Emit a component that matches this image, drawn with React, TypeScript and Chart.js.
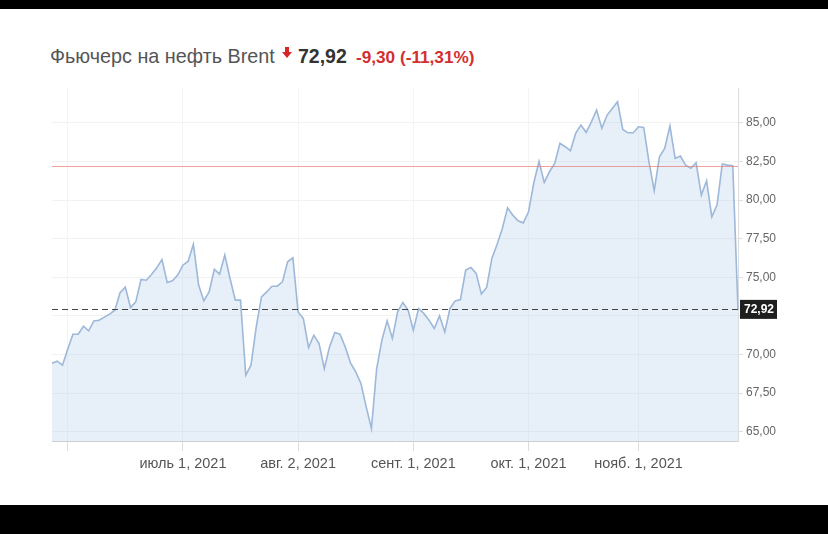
import React, { useEffect, useRef } from "react";
import { Chart, registerables } from "chart.js";
Chart.register(...registerables);

// Trading days (dd.mm, 2021)
const dates: string[] = [
  "27.05", "28.05", "31.05",
  "01.06", "02.06", "03.06", "04.06", "07.06", "08.06", "09.06", "10.06", "11.06", "14.06", "15.06", "16.06", "17.06", "18.06", "21.06", "22.06", "23.06", "24.06", "25.06", "28.06", "29.06", "30.06",
  "01.07", "02.07", "05.07", "06.07", "07.07", "08.07", "09.07", "12.07", "13.07", "14.07", "15.07", "16.07", "19.07", "20.07", "21.07", "22.07", "23.07", "26.07", "27.07", "28.07", "29.07", "30.07",
  "02.08", "03.08", "04.08", "05.08", "06.08", "09.08", "10.08", "11.08", "12.08", "13.08", "16.08", "17.08", "18.08", "19.08", "20.08", "23.08", "24.08", "25.08", "26.08", "27.08", "30.08", "31.08",
  "01.09", "02.09", "03.09", "06.09", "07.09", "08.09", "09.09", "10.09", "13.09", "14.09", "15.09", "16.09", "17.09", "20.09", "21.09", "22.09", "23.09", "24.09", "27.09", "28.09", "29.09", "30.09",
  "01.10", "04.10", "05.10", "06.10", "07.10", "08.10", "11.10", "12.10", "13.10", "14.10", "15.10", "18.10", "19.10", "20.10", "21.10", "22.10", "25.10", "26.10", "27.10", "28.10", "29.10",
  "01.11", "02.11", "03.11", "04.11", "05.11", "08.11", "09.11", "10.11", "11.11", "12.11", "15.11", "16.11", "17.11", "18.11", "19.11", "22.11", "23.11", "24.11", "25.11", "26.11",
];

const prices: number[] = [
  69.44, 69.57, 69.31,
  70.34, 71.31, 71.31, 71.83, 71.53, 72.17, 72.22, 72.42, 72.61, 72.87, 74.0, 74.36, 73.04, 73.41, 74.86, 74.81, 75.18, 75.61, 76.15, 74.66, 74.77, 75.14,
  75.78, 76.04, 77.14, 74.49, 73.47, 74.05, 75.52, 75.2, 76.43, 74.92, 73.52, 73.52, 68.66, 69.31, 71.79, 73.73, 74.05, 74.42, 74.42, 74.7, 76.0, 76.26,
  72.75, 72.33, 70.45, 71.25, 70.71, 69.09, 70.49, 71.42, 71.31, 70.49, 69.46, 68.87, 68.12, 66.61, 65.21, 69.09, 70.93, 72.18, 71.04, 72.76, 73.37, 72.87,
  71.57, 72.98, 72.66, 72.22, 71.68, 72.5, 71.46, 72.98, 73.47, 73.56, 75.46, 75.63, 75.25, 73.91, 74.34, 76.22, 77.14, 78.16, 79.49, 79.02, 78.65, 78.52,
  79.24, 81.1, 82.5, 81.14, 81.83, 82.37, 83.67, 83.45, 83.19, 84.31, 84.85, 84.38, 85.06, 85.82, 84.64, 85.5, 85.93, 86.36, 84.57, 84.35, 84.35,
  84.74, 84.7, 82.47, 80.6, 82.8, 83.34, 84.79, 82.69, 82.84, 82.26, 82.05, 82.41, 80.32, 81.24, 78.91, 79.67, 82.33, 82.26, 82.22, 72.92,
];

const tickDates: string[] = ["01.06", "01.07", "02.08", "01.09", "01.10", "01.11"];
const tickTexts: string[] = ["", "июль 1, 2021", "авг. 2, 2021", "сент. 1, 2021", "окт. 1, 2021", "нояб. 1, 2021"];
const yTicks: number[] = [65, 67.5, 70, 72.5, 75, 77.5, 80, 82.5, 85];

const lastPrice = 72.92;
const prevClose = 82.22;
const titleText = "Фьючерс на нефть Brent";
const priceText = "72,92";
const changeText = "-9,30 (-11,31%)";

const FONT = "'Liberation Sans', Arial, sans-serif";

const fmt = (v: number) => v.toFixed(2).replace(".", ",");

export default function App() {
  const ref = useRef<HTMLCanvasElement | null>(null);

  useEffect(() => {
    if (!ref.current) return;
    const tickIdx = tickDates.map((d) => dates.indexOf(d));

    const linesPlugin = {
      id: "priceLines",
      afterDatasetsDraw(chart: any) {
        const { ctx, chartArea } = chart;
        const y = chart.scales.y;
        ctx.save();
        const yp = Math.round(y.getPixelForValue(prevClose)) + 0.5;
        ctx.strokeStyle = "rgba(235,120,120,0.7)";
        ctx.lineWidth = 1;
        ctx.beginPath();
        ctx.moveTo(chartArea.left, yp);
        ctx.lineTo(chartArea.right, yp);
        ctx.stroke();
        const yl = Math.round(y.getPixelForValue(lastPrice)) + 0.5;
        ctx.strokeStyle = "#444";
        ctx.setLineDash([6, 4]);
        ctx.beginPath();
        ctx.moveTo(chartArea.left, yl);
        ctx.lineTo(chartArea.right, yl);
        ctx.stroke();
        ctx.restore();
      },
      afterDraw(chart: any) {
        const { ctx, chartArea } = chart;
        const y = chart.scales.y;
        const yl = y.getPixelForValue(lastPrice);
        ctx.save();
        ctx.fillStyle = "#1e1e1e";
        ctx.fillRect(chartArea.right + 2, yl - 9.5, 37, 19);
        ctx.fillStyle = "#fff";
        ctx.font = `bold 12px ${FONT}`;
        ctx.textAlign = "left";
        ctx.textBaseline = "middle";
        ctx.fillText(fmt(lastPrice), chartArea.right + 6, yl + 0.5);
        ctx.restore();
      },
    };

    const chart = new Chart(ref.current, {
      type: "line",
      data: {
        labels: dates,
        datasets: [
          {
            data: prices,
            borderColor: "#9db8d8",
            borderWidth: 1.6,
            backgroundColor: "rgba(180,205,232,0.32)",
            fill: "start",
            pointRadius: 0,
            tension: 0,
          },
        ],
      },
      options: {
        animation: false,
        responsive: false,
        devicePixelRatio: 1,
        layout: { padding: { left: 52, top: 88, right: 0, bottom: 0 } },
        plugins: { legend: { display: false }, tooltip: { enabled: false } },
        scales: {
          x: {
            type: "category",
            offset: false,
            afterBuildTicks: (s: any) => {
              s.ticks = tickIdx.map((i) => ({ value: i }));
            },
            afterFit: (s: any) => {
              s.height = 505 - 441;
            },
            ticks: {
              autoSkip: false,
              maxRotation: 0,
              padding: 4,
              color: "#555",
              font: { family: FONT, size: 14.5 },
              callback: (v: any) => {
                const k = tickIdx.indexOf(Number(v));
                return k >= 0 ? tickTexts[k] : "";
              },
            },
            grid: { color: "#f4f4f4", tickColor: "#dcdcdc", tickLength: 10 },
            border: { color: "#cfcfcf", width: 1 },
          },
          y: {
            position: "right",
            min: 64.4,
            max: 87.25,
            afterBuildTicks: (s: any) => {
              s.ticks = yTicks.map((v) => ({ value: v }));
            },
            afterFit: (s: any) => {
              s.width = 828 - 738;
            },
            ticks: {
              padding: 3,
              color: "#666",
              font: { family: FONT, size: 12 },
              callback: (v: any) => (Math.abs(Number(v) - lastPrice) < 1 ? "" : fmt(Number(v))),
            },
            grid: { color: "#f2f2f2", tickColor: "#dedede", tickLength: 5 },
            border: { color: "#dddddd", width: 1 },
          },
        },
      },
      plugins: [linesPlugin],
    } as any);
    return () => chart.destroy();
  }, []);

  return (
    <div style={{ position: "fixed", inset: 0, background: "#000", fontFamily: FONT }}>
      <div style={{ position: "absolute", left: 0, right: 0, top: 8.5, height: 496.5, background: "#fff" }} />
      <div style={{ position: "absolute", left: 50, top: 44, lineHeight: "24px", fontSize: 19.8, color: "#555", whiteSpace: "nowrap" }}>
        {titleText}
      </div>
      <svg style={{ position: "absolute", left: 282, top: 47 }} width="10" height="11" viewBox="0 0 10 11">
        <path d="M3 0 H7 V5 H10 L5 11 L0 5 H3 Z" fill="#d7262b" />
      </svg>
      <div style={{ position: "absolute", left: 298, top: 43, lineHeight: "26px", fontSize: 19.5, fontWeight: "bold", color: "#333", whiteSpace: "nowrap" }}>
        {priceText}
      </div>
      <div style={{ position: "absolute", left: 356, top: 45.5, lineHeight: "22px", fontSize: 17.2, fontWeight: "bold", color: "#d32f2f", whiteSpace: "nowrap" }}>
        {changeText}
      </div>
      <canvas ref={ref} width={828} height={505} style={{ position: "absolute", left: 0, top: 0, width: 828, height: 505 }} />
    </div>
  );
}
